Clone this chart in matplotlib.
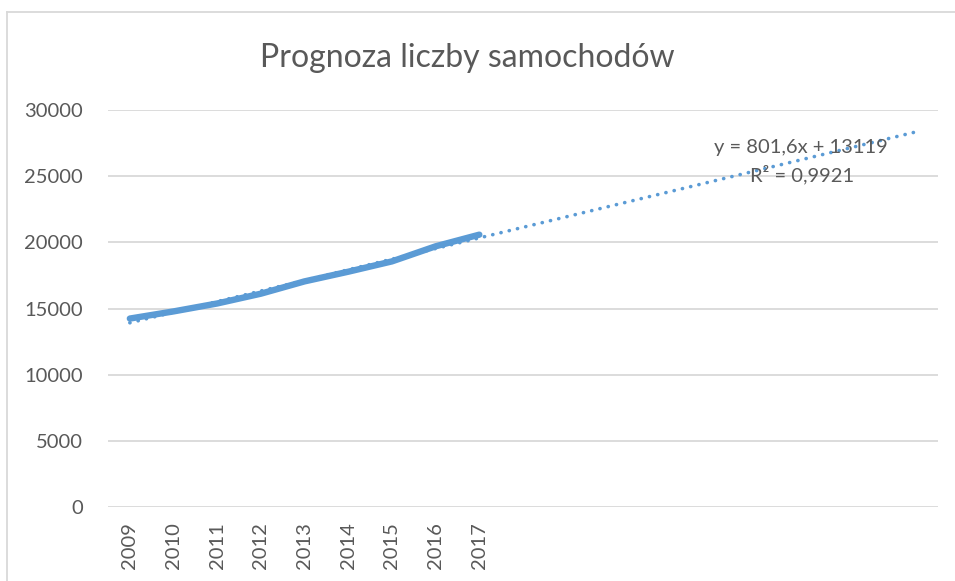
import matplotlib
matplotlib.use("Agg")
import matplotlib.pyplot as plt
from matplotlib.lines import Line2D
import numpy as np

plt.rcParams['font.family'] = ['Lato', 'DejaVu Sans']

years = ["2009", "2010", "2011", "2012", "2013", "2014", "2015", "2016", "2017"]
cars = [14240, 14780, 15380, 16120, 17050, 17780, 18560, 19700, 20580]
trend_slope = 801.6
trend_intercept = 13119
forecast_periods = 10
title = "Prognoza liczby samochodów"
eq_text = "y = 801,6x + 13119"
r2_text = "R² = 0,9921"
yticks = [0, 5000, 10000, 15000, 20000, 25000, 30000]

W, H = 955, 581
fig = plt.figure(figsize=(W / 100, H / 100), dpi=100)
fig.patch.set_facecolor("white")

ax = fig.add_axes([108 / W, 74 / H, (938 - 108) / W, (471 - 74) / H])
blue = "#5B9BD5"
grid = "#D9D9D9"
txt = "#595959"

n = len(years)
x = np.arange(1, n + 1)
xt = np.arange(1, n + forecast_periods + 1)
yt = trend_slope * xt + trend_intercept

ax.plot(x, cars, color=blue, lw=4.6, solid_capstyle="round", solid_joinstyle="round", zorder=3)
ax.plot(xt, yt, color=blue, lw=2.6, linestyle=(0, (0.05, 2.3)), dash_capstyle="round", zorder=4)

ax.set_xlim(0.5, n + forecast_periods + 0.5)
ax.set_ylim(0, 30000)
ax.set_yticks(yticks)
ax.set_yticklabels([str(v) for v in yticks])
ax.set_xticks(x)
ax.set_xticklabels(years, rotation=90)
ax.tick_params(axis="both", length=0, labelsize=14.5, labelcolor=txt)
ax.tick_params(axis="y", pad=18)
ax.tick_params(axis="x", pad=11)
ax.grid(axis="y", color=grid, lw=1.3)
ax.set_axisbelow(True)
for s in ax.spines.values():
    s.set_visible(False)

fig.text(467 / W, 1 - 58 / H, title, ha="center", va="center", fontsize=23, color=txt)
fig.text(801 / W, 1 - 147 / H, eq_text, ha="center", va="center", fontsize=14.5, color=txt)
fig.text(802 / W, 1 - 175 / H, r2_text, ha="center", va="center", fontsize=14.5, color=txt)

# chart border
fig.add_artist(Line2D([7 / W, 7 / W], [0, 1 - 11.5 / H], transform=fig.transFigure, color=grid, lw=1.3))
fig.add_artist(Line2D([7 / W, 1], [1 - 11.5 / H, 1 - 11.5 / H], transform=fig.transFigure, color=grid, lw=1.3))

fig.savefig("out.png", dpi=100)
